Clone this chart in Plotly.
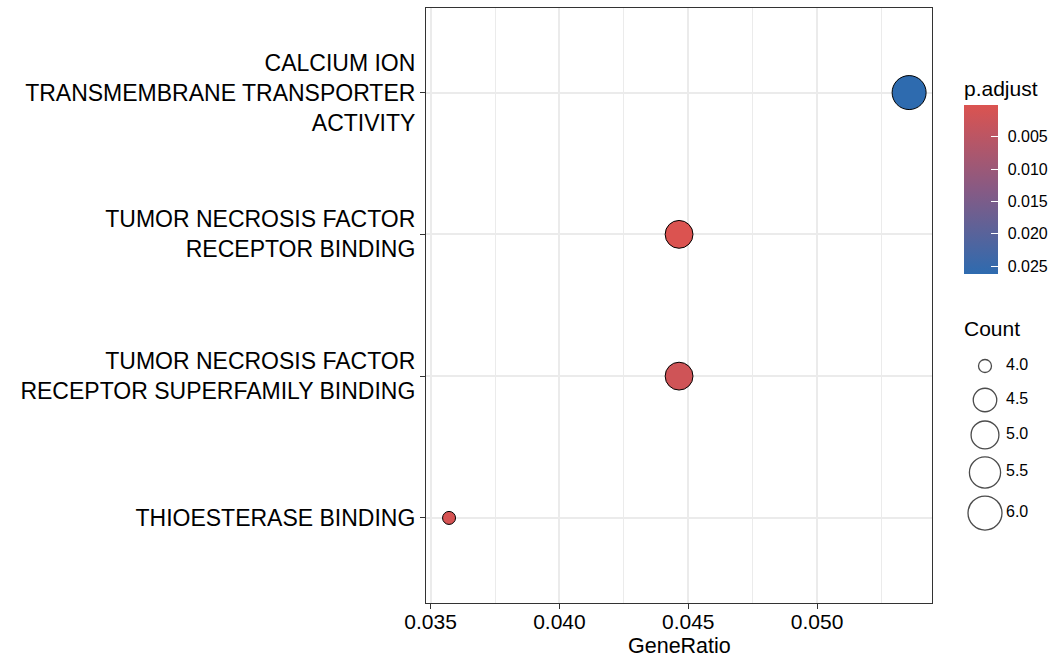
import plotly.graph_objects as go
import math

# ---- data ----
terms = [
    "THIOESTERASE BINDING",
    "TUMOR NECROSIS FACTOR<br>RECEPTOR SUPERFAMILY BINDING",
    "TUMOR NECROSIS FACTOR<br>RECEPTOR BINDING",
    "CALCIUM ION<br>TRANSMEMBRANE TRANSPORTER<br>ACTIVITY",
]
gene_ratio = [4 / 112, 5 / 112, 5 / 112, 6 / 112]
counts = [4, 5, 5, 6]
p_adjust = [0.0009, 0.0020, 0.00012, 0.0262]

x_ticks = [0.035, 0.040, 0.045, 0.050]
cb_ticks = [0.005, 0.010, 0.015, 0.020, 0.025]
size_legend = [4.0, 4.5, 5.0, 5.5, 6.0]

W, H = 1054, 660
FONT = "Liberation Sans, Arial, sans-serif"

cmin_c, cmax_c = 4.0, 6.0
d_min, d_max = 13.0, 34.0


def diam(c):
    return d_min + (d_max - d_min) * math.sqrt((c - cmin_c) / (cmax_c - cmin_c))


# colour axis runs on -p.adjust so that small values sit at the top of the bar
colorscale = [[0.0, "#2E6BAF"], [0.5, "#875A84"], [1.0, "#DB5350"]]
neg_p = [-p for p in p_adjust]

CB_TOP = 77
CB_LEN = 197
cb_common = dict(
    thickness=34, lenmode="pixels", len=CB_LEN,
    x=964 / W, xanchor="left", xpad=0,
    y=(H - CB_TOP) / H, yanchor="top", ypad=0,
    outlinewidth=0,
    tickvals=[-v for v in cb_ticks],
    title=dict(text="p.adjust", side="top", font=dict(size=21, family=FONT, color="black")),
)

fig = go.Figure()

fig.add_trace(go.Scatter(
    x=gene_ratio, y=terms, mode="markers",
    marker=dict(
        size=[diam(c) for c in counts], sizemode="diameter",
        color=neg_p, colorscale=colorscale,
        cmin=min(neg_p), cmax=max(neg_p),
        line=dict(color="black", width=1.0), opacity=1,
        colorbar=dict(
            **cb_common,
            ticktext=[f"{v:.3f}" for v in cb_ticks],
            ticks="outside", ticklen=7, tickcolor="rgba(255,255,255,0)",
            tickfont=dict(size=16, family=FONT, color="black"),
        ),
    ),
    text=[f"p.adjust={p}" for p in p_adjust],
    showlegend=False, hoverinfo="x+y+text",
))

# second copy of the same colour bar, only to draw the white tick marks inside it
cb_inner = dict(cb_common)
cb_inner["title"] = dict(text="p.adjust", side="top",
                         font=dict(size=21, family=FONT, color="rgba(0,0,0,0)"))
fig.add_trace(go.Scatter(
    x=[None], y=[None], mode="markers",
    marker=dict(
        color=neg_p, colorscale=colorscale, cmin=min(neg_p), cmax=max(neg_p),
        showscale=True,
        colorbar=dict(**cb_inner, ticks="inside", ticklen=7, tickcolor="white",
                      tickwidth=1.2, showticklabels=False),
    ),
    showlegend=False, hoverinfo="skip",
))

# size legend (drawn on an overlay axis in pixel units)
centers = []
cur = 349.0
for c in size_legend:
    h = max(34.0, diam(c) + 8)
    centers.append(cur + h / 2)
    cur += h

fig.add_trace(go.Scatter(
    x=[985] * len(size_legend), y=centers, mode="markers",
    marker=dict(size=[diam(c) for c in size_legend], sizemode="diameter",
                color="rgba(255,255,255,0)", line=dict(color="black", width=1.3)),
    xaxis="x2", yaxis="y2", showlegend=False, hoverinfo="skip",
))
fig.add_trace(go.Scatter(
    x=[1006] * len(size_legend), y=centers, mode="text",
    text=[f"{c:.1f}" for c in size_legend], textposition="middle right",
    textfont=dict(size=16, family=FONT, color="black"),
    xaxis="x2", yaxis="y2", showlegend=False, hoverinfo="skip",
))

fig.add_annotation(x=962 / W, y=(H - 328) / H, xref="paper", yref="paper",
                   text="Count", showarrow=False, xanchor="left", yanchor="middle",
                   font=dict(size=21, family=FONT, color="black"))

# x-axis title
fig.add_annotation(x=(426 + 932) / 2 / W, y=(H - 645.5) / H, xref="paper", yref="paper",
                   text="GeneRatio", showarrow=False, xanchor="center", yanchor="middle",
                   borderpad=0, font=dict(size=21.5, family=FONT, color="black"))

grid = "#EBEBEB"
fig.update_layout(
    width=W, height=H,
    margin=dict(l=0, r=0, t=0, b=0),
    paper_bgcolor="white", plot_bgcolor="rgba(0,0,0,0)",
    font=dict(family=FONT, color="black"),
    xaxis=dict(
        domain=[426 / W, 932 / W],
        range=[0.03482, 0.05446],
        tickvals=x_ticks, ticktext=[f"{v:.3f}" for v in x_ticks],
        tickfont=dict(size=21, family=FONT, color="black"),
        ticks="outside", ticklen=5, tickcolor="#333333",
        ticklabelstandoff=-5,
        showgrid=True, gridcolor=grid, gridwidth=1.8,
        minor=dict(tick0=0.0375, dtick=0.005, showgrid=True, gridcolor=grid, gridwidth=1.0),
        showline=True, linecolor="#333333", linewidth=1.1, mirror=True,
        zeroline=False,
        automargin=False,
    ),
    yaxis=dict(
        domain=[(H - 603) / H, (H - 7.5) / H],
        type="category", categoryorder="array", categoryarray=terms,
        range=[-0.6, 3.6],
        tickfont=dict(size=23, family=FONT, color="black"),
        ticks="outside", ticklen=5, tickcolor="#333333",
        showgrid=True, gridcolor=grid, gridwidth=1.8,
        showline=True, linecolor="#333333", linewidth=1.1, mirror=True,
        zeroline=False, automargin=False,
    ),
    xaxis2=dict(domain=[0, 1], range=[0, W], visible=False, fixedrange=True, anchor="y2"),
    yaxis2=dict(domain=[0, 1], range=[H, 0], visible=False, fixedrange=True, anchor="x2"),
)
fig.update_traces(selector=dict(xaxis="x2"), cliponaxis=False)

fig.write_html(
    "out.html",
    config={"displayModeBar": False},
    post_script="document.body.style.margin='0px';document.body.style.overflow='hidden';",
)
